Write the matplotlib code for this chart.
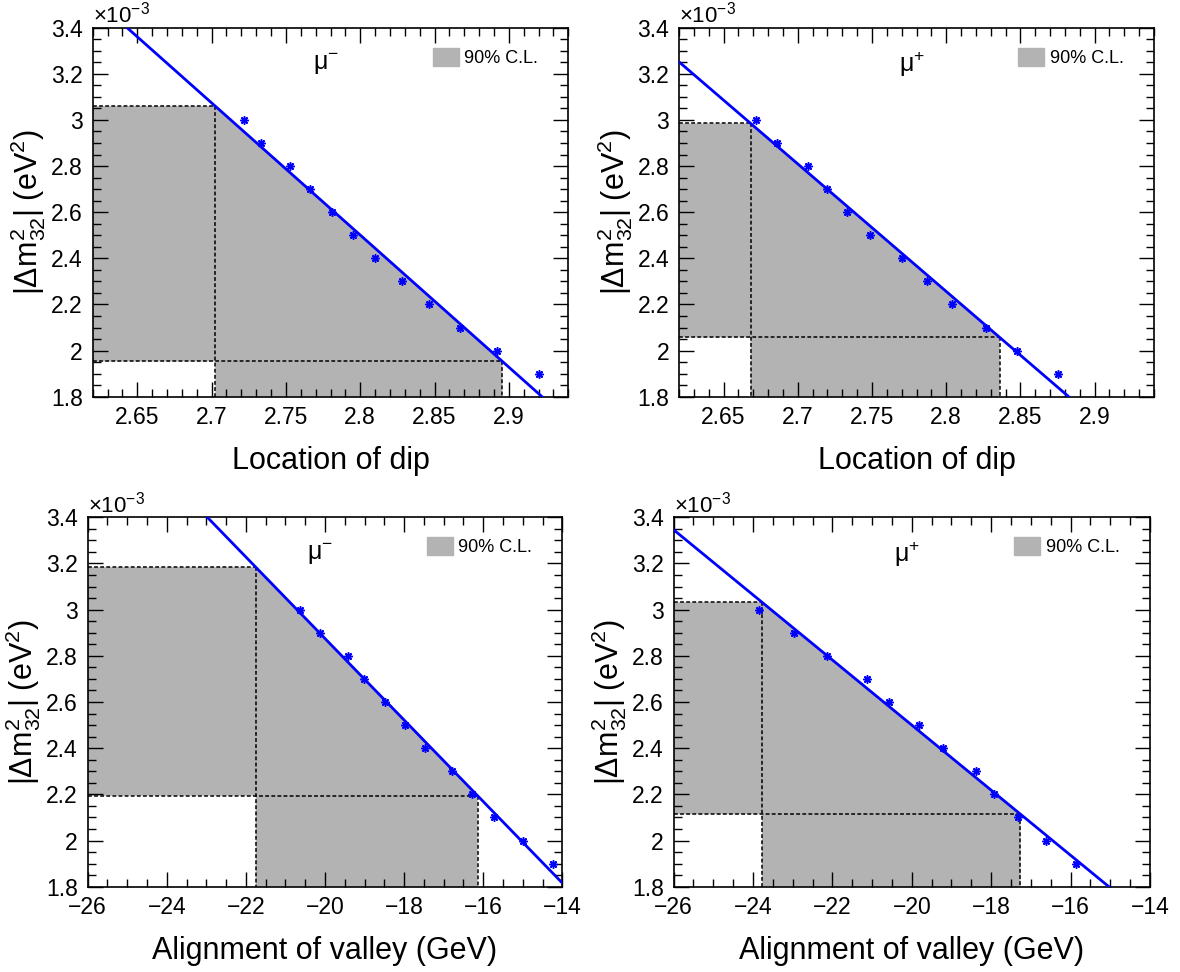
import matplotlib
matplotlib.use('Agg')
import matplotlib.pyplot as plt
from matplotlib.ticker import MultipleLocator, FuncFormatter
from matplotlib.patches import Patch
import numpy as np

plt.rcParams['font.family'] = ['Liberation Sans', 'DejaVu Sans']
plt.rcParams['mathtext.fontset'] = 'custom'
plt.rcParams['mathtext.rm'] = 'Liberation Sans'
plt.rcParams['mathtext.it'] = 'Liberation Sans'
plt.rcParams['mathtext.default'] = 'regular'

# |dm^2_32| of the simulated points, in units of 1e-3 eV^2 (same for all panels)
dm2 = [3.0, 2.9, 2.8, 2.7, 2.6, 2.5, 2.4, 2.3, 2.2, 2.1, 2.0, 1.9]

# observable for each point
dip_mu_minus = [2.722, 2.733, 2.753, 2.766, 2.781, 2.795, 2.810, 2.828, 2.846, 2.867, 2.892, 2.920]
dip_mu_plus = [2.672, 2.686, 2.707, 2.720, 2.733, 2.749, 2.770, 2.787, 2.804, 2.827, 2.848, 2.875]
valley_mu_minus = [-20.62, -20.13, -19.43, -19.01, -18.48, -17.98, -17.47, -16.78, -16.28, -15.73, -14.99, -14.24]
valley_mu_plus = [-23.85, -22.97, -22.14, -21.13, -20.57, -19.83, -19.21, -18.39, -17.92, -17.32, -16.61, -15.86]

# straight line fits (slope, intercept), y in 1e-3 eV^2
fit_dip_minus = (-5.73, 18.545)
fit_dip_plus = (-5.53, 17.7405)
fit_valley_minus = (-0.1765, -0.655)
fit_valley_plus = (-0.141, -0.32)

# 90% C.L. range of |dm^2_32| (low, high)
cl_dip_minus = (1.953, 3.06)
cl_dip_plus = (2.057, 2.985)
cl_valley_minus = (2.194, 3.184)
cl_valley_plus = (2.114, 3.032)

ylim = (1.8, 3.4)
gray = '#b3b3b3'


def fmt(v, pos):
    return f'{round(v, 6):g}'.replace('-', '\u2212')


def draw(ax, x, fit, cl, xlim, charge, xlabel, xmaj, xmin):
    m, b = fit
    ylo, yhi = cl
    xlo = (yhi - b) / m
    xhi = (ylo - b) / m
    x0, y0 = xlim[0], ylim[0]
    # shaded 90% C.L. region
    ax.fill([x0, xlo, xhi, xhi, xlo, xlo, x0], [yhi, yhi, ylo, y0, y0, ylo, ylo],
            color=gray, lw=0, zorder=1)
    dash = dict(color='black', lw=1.1, ls=(0, (2.5, 1.5)), zorder=2)
    ax.plot([x0, xlo], [yhi, yhi], **dash)
    ax.plot([xlo, xlo], [yhi, y0], **dash)
    ax.plot([x0, xhi], [ylo, ylo], **dash)
    ax.plot([xhi, xhi], [ylo, y0], **dash)
    xs = np.array(xlim)
    ax.plot(xs, m * xs + b, color='blue', lw=2, zorder=3)
    ax.plot(x, dm2, ls='none', marker=(8, 2, 0), ms=6, mew=1.1, color='blue', zorder=4)

    ax.set_xlim(xlim)
    ax.set_ylim(ylim)
    ax.xaxis.set_major_locator(MultipleLocator(xmaj))
    ax.xaxis.set_minor_locator(MultipleLocator(xmin))
    ax.yaxis.set_major_locator(MultipleLocator(0.2))
    ax.yaxis.set_minor_locator(MultipleLocator(0.05))
    ax.xaxis.set_major_formatter(FuncFormatter(fmt))
    ax.yaxis.set_major_formatter(FuncFormatter(fmt))
    ax.tick_params(which='both', direction='in', top=True, right=True, width=1)
    ax.tick_params(which='major', length=11, labelsize=16.5, pad=7)
    ax.tick_params(which='minor', length=5.5)
    for s in ax.spines.values():
        s.set_linewidth(1.2)
    ax.set_xlabel(xlabel, fontsize=22, labelpad=12)
    ax.set_ylabel(r'$|\Delta m^{2}_{32}|$ (eV$^{2}$)', fontsize=22, labelpad=2)
    ax.text(0.0, 1.0, r'$\times10^{-3}$', transform=ax.transAxes, ha='left', va='bottom', fontsize=16)
    ax.text(0.49, 0.9, 'μ$^{' + charge + '}$', transform=ax.transAxes, ha='center', va='center', fontsize=18)
    ax.legend(handles=[Patch(color=gray, label='90% C.L.')], loc='upper right',
              bbox_to_anchor=(0.963, 0.98), frameon=False, fontsize=13,
              handlelength=1.45, handleheight=1.15, handletextpad=0.3, borderpad=0.2)


fig = plt.figure(figsize=(11.8, 9.72), dpi=100)
W, H = 1180, 972
ax1 = fig.add_axes([92.7 / W, 1 - 396.7 / H, 475.6 / W, 369 / H])
ax2 = fig.add_axes([679 / W, 1 - 396.7 / H, 475 / W, 369 / H])
ax3 = fig.add_axes([87.7 / W, 1 - 886.7 / H, 474.6 / W, 369.4 / H])
ax4 = fig.add_axes([673.6 / W, 1 - 886.7 / H, 476.4 / W, 369.4 / H])

draw(ax1, dip_mu_minus, fit_dip_minus, cl_dip_minus, (2.62, 2.94), '-', 'Location of dip', 0.05, 0.01)
draw(ax2, dip_mu_plus, fit_dip_plus, cl_dip_plus, (2.62, 2.94), '+', 'Location of dip', 0.05, 0.01)
draw(ax3, valley_mu_minus, fit_valley_minus, cl_valley_minus, (-26, -14), '-', 'Alignment of valley (GeV)', 2, 0.5)
draw(ax4, valley_mu_plus, fit_valley_plus, cl_valley_plus, (-26, -14), '+', 'Alignment of valley (GeV)', 2, 0.5)

fig.savefig('out.png', dpi=100)
